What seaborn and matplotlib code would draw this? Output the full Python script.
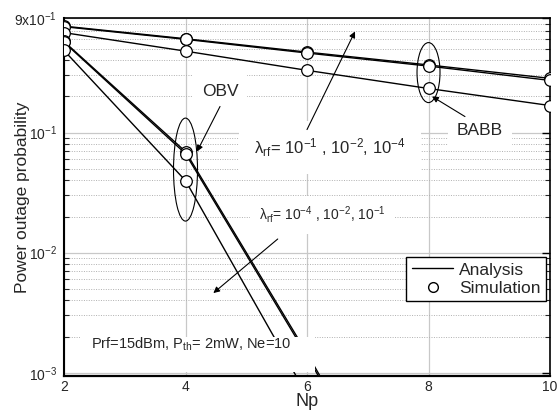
import numpy as np
import pandas as pd
import matplotlib
matplotlib.use("Agg")
import matplotlib.pyplot as plt
import seaborn as sns
from matplotlib.patches import Ellipse, Rectangle
from matplotlib.lines import Line2D
from matplotlib.ticker import FixedLocator, NullFormatter

# ---------------- data ----------------
Np = [2, 4, 6, 8, 10]
babb_lam1 = [0.770, 0.605, 0.468, 0.366, 0.283]
babb_lam2 = [0.762, 0.598, 0.460, 0.358, 0.272]
babb_lam4 = [0.680, 0.477, 0.330, 0.233, 0.168]
obv_lam4 = [0.574, 0.0695, 0.00145, 2.5e-5, 4e-7]
obv_lam2 = [0.566, 0.0668, 0.00138, 2.3e-5, 3.6e-7]
obv_lam1 = [0.483, 0.0398, 0.00065, 9e-6, 1.2e-7]

x_ticks = [2, 4, 6, 8, 10]
y_major = [1e-3, 1e-2, 1e-1, 0.9]
y_major_labels = [r"$10^{-3}$", r"$10^{-2}$", r"$10^{-1}$", r"9x$10^{-1}$"]

series = {
    "BABB 1e-1": babb_lam1,
    "BABB 1e-2": babb_lam2,
    "BABB 1e-4": babb_lam4,
    "OBV 1e-4": obv_lam4,
    "OBV 1e-2": obv_lam2,
    "OBV 1e-1": obv_lam1,
}
df = pd.concat(
    [pd.DataFrame({"Np": Np, "P": v, "curve": k}) for k, v in series.items()],
    ignore_index=True,
)

# ---------------- style ----------------
sns.set_style("white")
plt.rcParams["font.family"] = ["Liberation Sans", "DejaVu Sans"]
plt.rcParams["mathtext.fontset"] = "custom"
plt.rcParams["mathtext.rm"] = "Liberation Sans"
plt.rcParams["mathtext.it"] = "Liberation Sans"
plt.rcParams["mathtext.default"] = "regular"

fig = plt.figure(figsize=(5.58, 4.18), dpi=100)
ax = fig.add_axes([0.1147, 0.1005, 0.8710, 0.8564])

ax.set_yscale("log")
ax.set_xlim(2, 10)
ax.set_ylim(0.00094, 0.9)

# analysis lines
sns.lineplot(data=df, x="Np", y="P", units="curve", estimator=None,
             color="black", lw=1.0, ax=ax, legend=False, zorder=3)
# simulation markers
sns.scatterplot(data=df, x="Np", y="P", marker="o", s=70,
                facecolor="white", edgecolor="black", linewidth=0.9,
                ax=ax, legend=False, zorder=4)

# ticks and grid
ax.set_xticks(x_ticks)
ax.set_xticklabels([str(t) for t in x_ticks])
ax.yaxis.set_major_locator(FixedLocator(y_major))
ax.set_yticklabels(y_major_labels)
minors = [m * 10.0 ** e for e in (-3, -2, -1) for m in range(2, 10)]
minors = [v for v in minors if v < 0.89]
ax.yaxis.set_minor_locator(FixedLocator(minors))
ax.yaxis.set_minor_formatter(NullFormatter())

ax.tick_params(axis="both", which="major", direction="in", length=6,
               width=1.0, labelsize=10, right=True, top=False, color="black")
ax.tick_params(axis="y", which="minor", direction="in", length=3.5,
               width=0.8, left=True, right=True)
ax.tick_params(axis="x", which="major", pad=3)
ax.tick_params(axis="y", which="major", pad=5)

ax.grid(True, which="major", axis="both", color="#c8c8c8", lw=0.9, ls="-", zorder=0)
ax.grid(True, which="minor", axis="y", color="#b0b0b0", lw=0.7, ls=(0, (1, 1.5)), zorder=0)
ax.set_axisbelow(True)

for s in ax.spines.values():
    s.set_color("black")
    s.set_linewidth(1.2)
ax.spines["bottom"].set_linewidth(1.6)
ax.spines["left"].set_linewidth(1.5)

ax.set_xlabel("Np", fontsize=13, labelpad=-1)
ax.set_ylabel("Power outage probability", fontsize=12.5)
ax.yaxis.set_label_coords(-0.07, 0.5)

# ---------------- annotations ----------------
wb = dict(facecolor="white", edgecolor="none", boxstyle="square,pad=0.5")

ax.text(4.568, 0.222, "OBV", fontsize=12.5, ha="center", va="center",
        bbox=wb, zorder=6)
ax.text(8.848, 0.104, "BABB", fontsize=12.5, ha="center", va="center",
        bbox=wb, zorder=6)
ax.text(6.38, 0.075, r"$\lambda_{rf}$= 10$^{-1}$ , 10$^{-2}$, 10$^{-4}$",
        fontsize=12, ha="center", va="center",
        bbox=dict(facecolor="white", edgecolor="none", boxstyle="square,pad=0.9"),
        zorder=6)
ax.text(6.247, 0.0207, r"$\lambda_{rf}$= 10$^{-4}$ , 10$^{-2}$, 10$^{-1}$",
        fontsize=10, ha="center", va="center",
        bbox=dict(facecolor="white", edgecolor="none", boxstyle="square,pad=0.6"),
        zorder=6)
# white backing box of the parameter note
ax.add_patch(Rectangle((2.26, 0.00102), 6.13 - 2.26, 0.0020 - 0.00102,
                       facecolor="white", edgecolor="none", zorder=6))
ax.text(4.09, 0.00171, r"Prf=15dBm, P$_{th}$= 2mW, Ne=10",
        fontsize=10.5, ha="center", va="center", zorder=7)

arrow = dict(arrowstyle="-|>", color="black", lw=0.8, mutation_scale=9,
             shrinkA=0, shrinkB=0)
ax.annotate("", xy=(4.189, 0.0695), xytext=(4.568, 0.165), arrowprops=arrow, zorder=7)
ax.annotate("", xy=(6.79, 0.695), xytext=(6.0, 0.106), arrowprops=arrow, zorder=7)
ax.annotate("", xy=(8.058, 0.2), xytext=(8.60, 0.136), arrowprops=arrow, zorder=7)
ax.annotate("", xy=(4.458, 0.00461), xytext=(5.518, 0.0130), arrowprops=arrow, zorder=7)

# ellipses (drawn in axes fraction, centred on data points)
def ellipse_at(xd, yd, w_px, h_px):
    disp = ax.transData.transform((xd, yd))
    cx, cy = ax.transAxes.inverted().transform(disp)
    bb = ax.get_window_extent()
    e = Ellipse((cx, cy), w_px / bb.width, h_px / bb.height,
                transform=ax.transAxes, fill=False, edgecolor="black",
                lw=0.8, zorder=5)
    ax.add_patch(e)

fig.canvas.draw()
ellipse_at(4.0, 0.0492, 24, 103)
ellipse_at(8.0, 0.316, 23, 60)

# legend
handles = [Line2D([0], [0], color="black", lw=1.0),
           Line2D([0], [0], ls="none", marker="o", markersize=7,
                  markerfacecolor="white", markeredgecolor="black")]
leg = ax.legend(handles, ["Analysis", "Simulation"], loc="upper right",
                bbox_to_anchor=(0.992, 0.332), fontsize=12.5, frameon=True,
                fancybox=False, framealpha=1, edgecolor="black",
                borderpad=0.3, labelspacing=0.2, handlelength=2.4,
                handletextpad=0.35, borderaxespad=0)
leg.get_frame().set_linewidth(1.0)
leg.set_zorder(8)

fig.savefig("out.png", dpi=100)
